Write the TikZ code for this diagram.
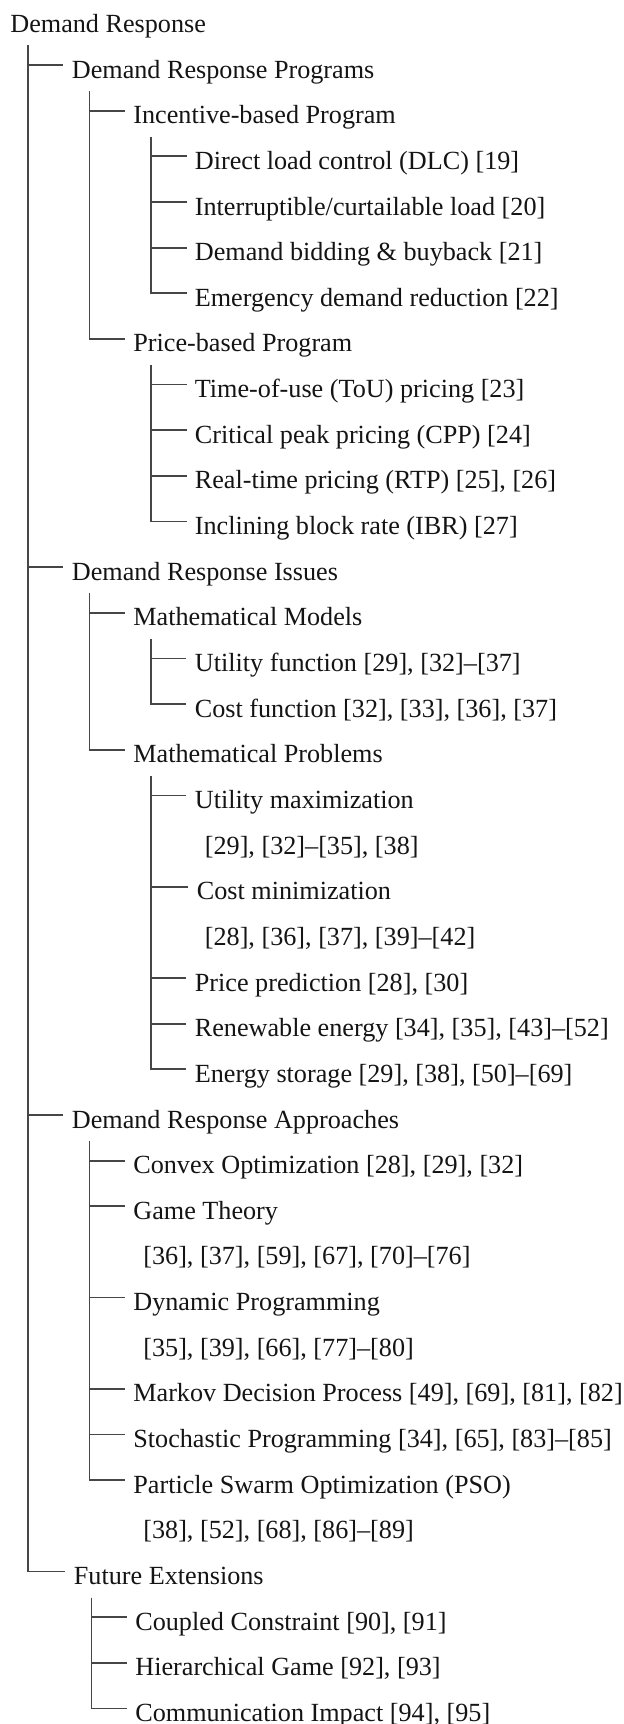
\documentclass[tikz,border=0pt]{standalone}
\usepackage{fontspec}
\setmainfont{Liberation Serif}
\usepackage{xcolor}
\usepackage{tikz}
\usetikzlibrary{positioning,calc}

\definecolor{treeline}{RGB}{70,70,70}
\definecolor{treetext}{RGB}{20,20,20}

\tikzset{
	item/.style={anchor=base west,inner xsep=0.16cm,inner ysep=0pt,text height=0.62cm,text depth=0.10cm,text=treetext,font=\fontsize{14.9}{17}\selectfont},
	branch/.style={draw=treeline,line width=1pt}
}

\begin{document}
\begin{tikzpicture}
		\useasboundingbox (0,0) rectangle (12.48,-34.48);
		% level 0 and Programs
		\node[item] (dr) at (0.04,-0.648) {Demand Response};
		\node[item,shift={(1.23,-0.913)}] (prog) at (dr.base west) {Demand Response Programs};
		\node[item,shift={(1.23,-0.913)}] (inc) at (prog.base west) {Incentive-based Program};
		\node[item,shift={(1.23,-0.913)}] (dlc) at (inc.base west) {Direct load control (DLC) [19]};
		\node[item,shift={(0,-0.913)}] (intr) at (dlc.base west) {Interruptible/curtailable load [20]};
		\node[item,shift={(0,-0.913)}] (bid) at (intr.base west) {Demand bidding \& buyback [21]};
		\node[item,shift={(0,-0.913)}] (emer) at (bid.base west) {Emergency demand reduction [22]};
		\node[item,shift={(-1.23,-0.913)}] (price) at (emer.base west) {Price-based Program};
		\node[item,shift={(1.23,-0.913)}] (tou) at (price.base west) {Time-of-use (ToU) pricing [23]};
		\node[item,shift={(0,-0.913)}] (cpp) at (tou.base west) {Critical peak pricing (CPP) [24]};
		\node[item,shift={(0,-0.913)}] (rtp) at (cpp.base west) {Real-time pricing (RTP) [25], [26]};
		\node[item,shift={(0,-0.913)}] (ibr) at (rtp.base west) {Inclining block rate (IBR) [27]};
		% Issues
		\node[item,shift={(-2.46,-0.913)}] (iss) at (ibr.base west) {Demand Response Issues};
		\node[item,shift={(1.23,-0.913)}] (mmod) at (iss.base west) {Mathematical Models};
		\node[item,shift={(1.23,-0.913)}] (ufun) at (mmod.base west) {Utility function [29], [32]--[37]};
		\node[item,shift={(0,-0.913)}] (cfun) at (ufun.base west) {Cost function [32], [33], [36], [37]};
		\node[item,shift={(-1.23,-0.913)}] (mprob) at (cfun.base west) {Mathematical Problems};
		\node[item,shift={(1.23,-0.913)}] (umax) at (mprob.base west) {Utility maximization};
		\node[item,shift={(0.2,-0.913)}] (umaxref) at (umax.base west) {[29], [32]--[35], [38]};
		\node[item,shift={(-0.16,-0.913)}] (cmin) at (umaxref.base west) {Cost minimization};
		\node[item,shift={(0.16,-0.913)}] (cminref) at (cmin.base west) {[28], [36], [37], [39]--[42]};
		\node[item,shift={(-0.2,-0.913)}] (ppred) at (cminref.base west) {Price prediction [28], [30]};
		\node[item,shift={(0,-0.913)}] (renew) at (ppred.base west) {Renewable energy [34], [35], [43]--[52]};
		\node[item,shift={(0,-0.913)}] (stor) at (renew.base west) {Energy storage [29], [38], [50]--[69]};
		% Approaches
		\node[item,shift={(-2.46,-0.913)}] (appr) at (stor.base west) {Demand Response Approaches};
		\node[item,shift={(1.23,-0.913)}] (convex) at (appr.base west) {Convex Optimization [28], [29], [32]};
		\node[item,shift={(0,-0.913)}] (game) at (convex.base west) {Game Theory};
		\node[item,shift={(0.2,-0.913)}] (gameref) at (game.base west) {[36], [37], [59], [67], [70]--[76]};
		\node[item,shift={(-0.2,-0.913)}] (dynp) at (gameref.base west) {Dynamic Programming};
		\node[item,shift={(0.2,-0.913)}] (dynpref) at (dynp.base west) {[35], [39], [66], [77]--[80]};
		\node[item,shift={(-0.2,-0.913)}] (mdp) at (dynpref.base west) {Markov Decision Process [49], [69], [81], [82]};
		\node[item,shift={(0,-0.913)}] (stoch) at (mdp.base west) {Stochastic Programming [34], [65], [83]--[85]};
		\node[item,shift={(0,-0.913)}] (pso) at (stoch.base west) {Particle Swarm Optimization (PSO)};
		\node[item,shift={(0.2,-0.913)}] (psoref) at (pso.base west) {[38], [52], [68], [86]--[89]};
		% Future
		\node[item,shift={(-1.39,-0.913)}] (fut) at (psoref.base west) {Future Extensions};
		\node[item,shift={(1.23,-0.913)}] (coup) at (fut.base west) {Coupled Constraint [90], [91]};
		\node[item,shift={(0,-0.913)}] (hier) at (coup.base west) {Hierarchical Game [92], [93]};
		\node[item,shift={(0,-0.913)}] (comm) at (hier.base west) {Communication Impact [94], [95]};
		
		% tree lines
		\draw[branch] (dr.base west) ++(0.52,-0.26) |- (prog.west) (dr.base west) ++(0.52,-0.26) |- (iss.west) (dr.base west) ++(0.52,-0.26) |- (appr.west) (dr.base west) ++(0.52,-0.26) |- (fut.west);
		\draw[branch] (prog.base west) ++(0.52,-0.26) |- (inc.west) (prog.base west) ++(0.52,-0.26) |- (price.west);
		\draw[branch] (inc.base west) ++(0.52,-0.26) |- (dlc.west) (inc.base west) ++(0.52,-0.26) |- (intr.west) (inc.base west) ++(0.52,-0.26) |- (bid.west) (inc.base west) ++(0.52,-0.26) |- (emer.west);
		\draw[branch] (price.base west) ++(0.52,-0.26) |- (tou.west) (price.base west) ++(0.52,-0.26) |- (cpp.west) (price.base west) ++(0.52,-0.26) |- (rtp.west) (price.base west) ++(0.52,-0.26) |- (ibr.west);
		\draw[branch] (iss.base west) ++(0.52,-0.26) |- (mmod.west) (iss.base west) ++(0.52,-0.26) |- (mprob.west);
		\draw[branch] (mmod.base west) ++(0.52,-0.26) |- (ufun.west) (mmod.base west) ++(0.52,-0.26) |- (cfun.west);
		\draw[branch] (mprob.base west) ++(0.52,-0.26) |- (umax.west) (mprob.base west) ++(0.52,-0.26) |- (cmin.west) (mprob.base west) ++(0.52,-0.26) |- (ppred.west) (mprob.base west) ++(0.52,-0.26) |- (renew.west) (mprob.base west) ++(0.52,-0.26) |- (stor.west);
		\draw[branch] (appr.base west) ++(0.52,-0.26) |- (convex.west) (appr.base west) ++(0.52,-0.26) |- (game.west) (appr.base west) ++(0.52,-0.26) |- (dynp.west) (appr.base west) ++(0.52,-0.26) |- (mdp.west) (appr.base west) ++(0.52,-0.26) |- (stoch.west) (appr.base west) ++(0.52,-0.26) |- (pso.west);
		\draw[branch] (fut.base west) ++(0.52,-0.26) |- (coup.west) (fut.base west) ++(0.52,-0.26) |- (hier.west) (fut.base west) ++(0.52,-0.26) |- (comm.west);
	\end{tikzpicture}
\end{document}
